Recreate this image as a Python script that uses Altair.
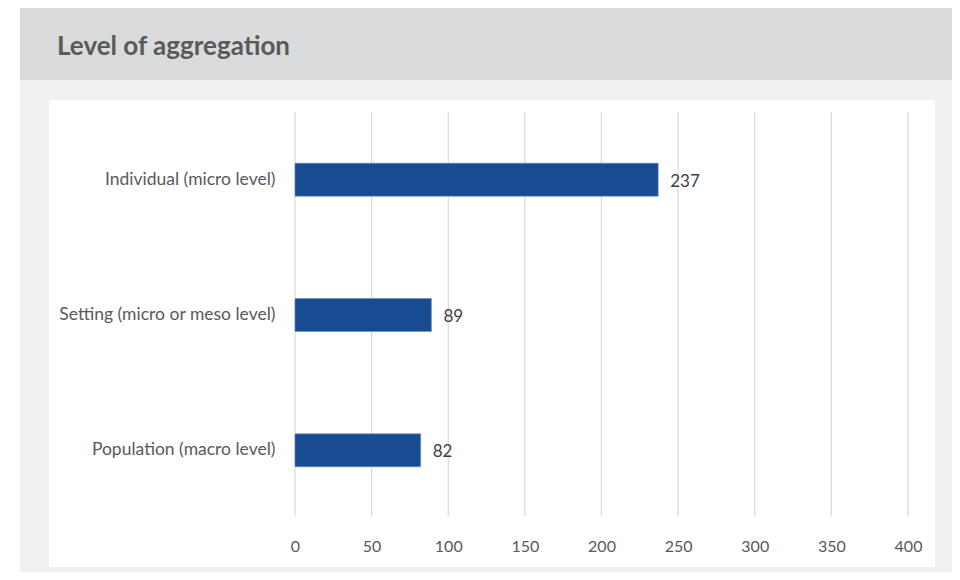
import altair as alt
import pandas as pd

categories = ["Individual (micro level)", "Setting (micro or meso level)", "Population (macro level)"]
values = [237, 89, 82]
x_ticks = [0, 50, 100, 150, 200, 250, 300, 350, 400]
title_text = "Level of aggregation"

df = pd.DataFrame({"category": categories, "value": values})
ticks_df = pd.DataFrame({"tick": x_ticks})

FONT = "Lato"
W, H = 613, 406

def rect(x, x2, y, y2, color):
    return alt.Chart(pd.DataFrame({"a": [0]})).mark_rect(color=color).encode(
        x=alt.value(x), x2=alt.value(x2), y=alt.value(y), y2=alt.value(y2)
    )

bg_light = rect(-275, 657, -104, 460, "#f0f0f0")
bg_header = rect(-275, 657, -104, -32, "#dadbdd")
bg_white = rect(-246, 640, -12, 455, "#ffffff")

title = alt.Chart(pd.DataFrame({"t": [title_text]})).mark_text(
    align="left", baseline="alphabetic", font=FONT, fontSize=26, fontWeight="bold", color="#5a5a5a"
).encode(x=alt.value(-238), y=alt.value(-57), text="t:N")

x_scale = alt.Scale(domain=[0, 400], nice=False)

grid = alt.Chart(ticks_df).mark_rule(color="#d9d9d9", strokeWidth=1.2).encode(
    x=alt.X("tick:Q", scale=x_scale), y=alt.value(0), y2=alt.value(H - 2)
)

y_enc = alt.Y("category:N", sort=categories, title=None,
              axis=alt.Axis(labelFont=FONT, labelFontSize=17.5, labelColor="#595959",
                            labelPadding=20, ticks=False, domain=False, grid=False,
                            labelLimit=300, zindex=1))
x_enc = alt.X("value:Q", title=None, scale=x_scale,
              axis=alt.Axis(values=x_ticks, labelFont=FONT, labelFontSize=16, labelColor="#595959",
                            labelPadding=20, ticks=False, domain=False, grid=False,
                            labelFlush=False, labelBound=False, labelOverlap=False, zindex=1))

bars = alt.Chart(df).mark_bar(size=33, color="#174b92", stroke="#6f8fc0", strokeWidth=0.6).encode(
    x=x_enc, y=y_enc
)
labels = alt.Chart(df).mark_text(align="left", dx=12, dy=2, font=FONT, fontSize=17, color="#404040").encode(
    x=alt.X("value:Q"), y=alt.Y("category:N", sort=categories), text="value:Q"
)

chart = alt.layer(bg_light, bg_header, bg_white, title, grid, bars, labels).properties(
    width=W, height=H,
    autosize=alt.AutoSizeParams(type="none"),
    padding={"left": 287, "right": 44, "top": 104, "bottom": 54},
    background="white",
).configure_view(stroke=None)

chart.save("out.html", embed_options={"renderer": "svg", "actions": False})
